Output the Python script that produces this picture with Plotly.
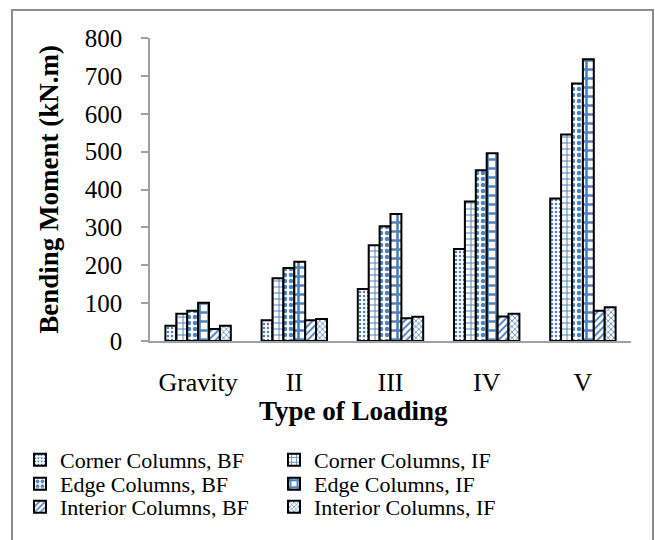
import plotly.graph_objects as go

categories = ["Gravity", "II", "III", "IV", "V"]
series_names = [
    "Corner Columns, BF", "Corner Columns, IF",
    "Edge Columns, BF", "Edge Columns, IF",
    "Interior Columns, BF", "Interior Columns, IF",
]
corner_bf = [40, 55, 137, 243, 376]
corner_if = [72, 166, 253, 368, 545]
edge_bf = [80, 193, 303, 451, 680]
edge_if = [101, 209, 335, 496, 744]
interior_bf = [32, 55, 60, 65, 80]
interior_if = [40, 58, 64, 72, 89]
series_values = [corner_bf, corner_if, edge_bf, edge_if, interior_bf, interior_if]
y_ticks = [0, 100, 200, 300, 400, 500, 600, 700, 800]

BLUE = "#4F81BD"
FONT = "Times New Roman, Liberation Serif, serif"
patterns = [
    dict(shape=".", size=4, solidity=0.3),
    dict(shape="+", size=6, solidity=0.3),
    dict(shape=".", size=6, solidity=0.45),
    dict(shape="+", size=9, solidity=0.5),
    dict(shape="/", size=5, solidity=0.4),
    dict(shape="x", size=4, solidity=0.35),
]
legend_ids = ["legend", "legend", "legend2", "legend2", "legend3", "legend3"]

fig = go.Figure()
for name, vals, pat, lg in zip(series_names, series_values, patterns, legend_ids):
    fig.add_trace(go.Bar(
        x=categories, y=vals, name=name, legend=lg,
        marker=dict(
            color="white",
            line=dict(color="black", width=2),
            pattern=dict(fgcolor=BLUE, bgcolor="white", fillmode="replace", **pat),
        ),
    ))

W, H = 655, 540
ml, mr, mt, mb = 150, 24, 38, 199
pw = W - ml - mr
ph = H - mt - mb

def px_to_paper_x(px):
    return (px - ml) / pw

def px_to_paper_y(py):
    return (H - mb - py) / ph

legend_common = dict(
    orientation="h", xanchor="left", yanchor="middle",
    font=dict(family=FONT, size=22, color="black"),
    entrywidth=209, itemwidth=30, bgcolor="rgba(0,0,0,0)",
    traceorder="normal",
)

fig.update_layout(
    width=W, height=H,
    margin=dict(l=ml, r=mr, t=mt, b=mb),
    paper_bgcolor="white", plot_bgcolor="white",
    barmode="group", bargap=0.32, bargroupgap=0,
    font=dict(family=FONT, color="black"),
    showlegend=True,
    legend=dict(x=px_to_paper_x(20), y=px_to_paper_y(460), **legend_common),
    legend2=dict(x=px_to_paper_x(20), y=px_to_paper_y(484), **legend_common),
    legend3=dict(x=px_to_paper_x(20), y=px_to_paper_y(507), **legend_common),
    xaxis=dict(
        showline=True, linecolor="#A0A0A0", linewidth=1.5,
        ticks="", showgrid=False, zeroline=False,
        tickfont=dict(family=FONT, size=26, color="black"),
        ticklabelstandoff=17,
    ),
    yaxis=dict(
        range=[0, 800], tickvals=y_ticks,
        showline=True, linecolor="#A0A0A0", linewidth=1.5,
        ticks="outside", ticklen=7, tickcolor="#A0A0A0", tickwidth=1.5,
        showgrid=False, zeroline=False,
        tickfont=dict(family=FONT, size=25, color="black"),
        ticklabelstandoff=14,
        title=dict(text="<b>Bending Moment (kN.m)</b>",
                   font=dict(family=FONT, size=27, color="black"), standoff=18),
    ),
    annotations=[dict(
        text="<b>Type of Loading</b>", xref="paper", yref="paper",
        x=px_to_paper_x(353), y=px_to_paper_y(411),
        xanchor="center", yanchor="middle", showarrow=False,
        font=dict(family=FONT, size=27, color="black"),
    )],
    shapes=[dict(
        type="rect", xref="paper", yref="paper",
        x0=px_to_paper_x(12), x1=px_to_paper_x(653),
        y0=px_to_paper_y(545), y1=px_to_paper_y(10),
        line=dict(color="#8C8C8C", width=2), fillcolor="rgba(0,0,0,0)", layer="below",
    )],
)

fig.write_html("out.html")
